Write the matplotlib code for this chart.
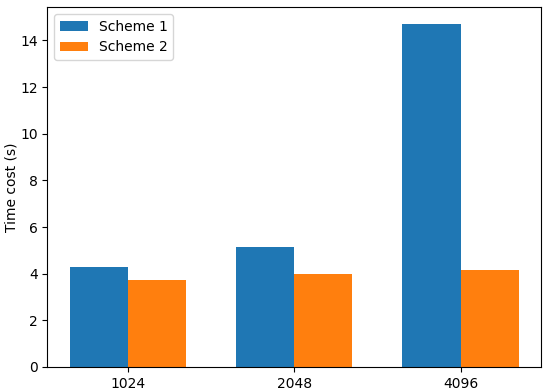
import numpy as np
import matplotlib.pyplot as plt

sizes = ['1024', '2048', '4096']
scheme1 = [4.27, 5.13, 14.7]
scheme2 = [3.75, 4.0, 4.18]

x = np.arange(len(sizes))
width = 0.35

fig = plt.figure(figsize=(5.5, 3.9), dpi=100)
ax = fig.add_axes([0.086, 0.059, 0.898, 0.923])

ax.bar(x - width / 2, scheme1, width, label='Scheme 1', color='tab:blue')
ax.bar(x + width / 2, scheme2, width, label='Scheme 2', color='tab:orange')

ax.set_xticks(x)
ax.set_xticklabels(sizes, fontsize=10)
ax.tick_params(axis='y', labelsize=10)
ax.set_ylabel('Time cost (s)', fontsize=10, labelpad=1)
ax.legend(loc='upper left', fontsize=10)

fig.savefig('out.png', dpi=100)
